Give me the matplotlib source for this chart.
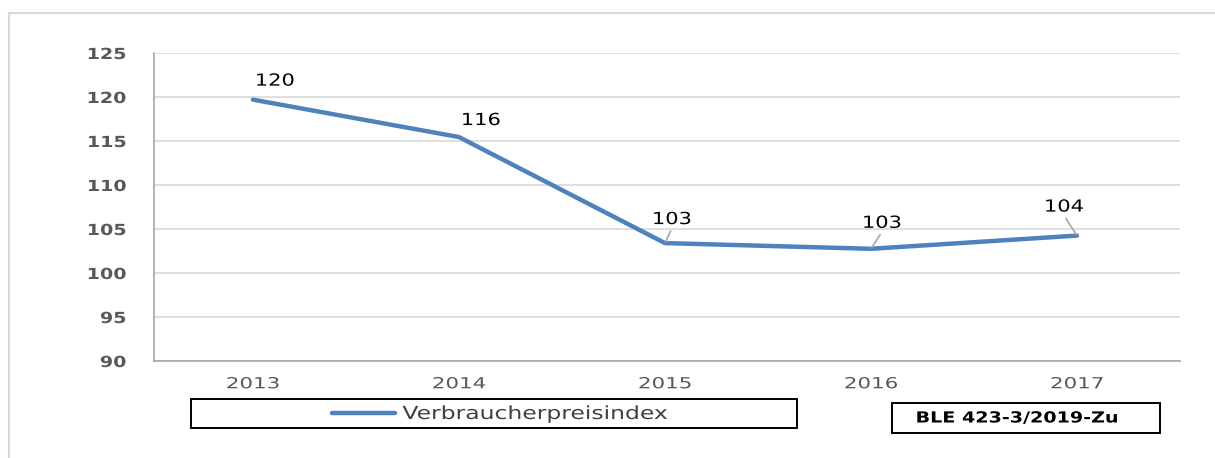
import matplotlib
matplotlib.use("Agg")
import matplotlib.pyplot as plt
from matplotlib.patches import Rectangle
from matplotlib.lines import Line2D
from matplotlib.patheffects import AbstractPathEffect
from matplotlib.transforms import Affine2D

years = ["2013", "2014", "2015", "2016", "2017"]
values = [119.7, 115.45, 103.4, 102.75, 104.25]
labels = ["120", "116", "103", "103", "104"]
yticks = [90, 95, 100, 105, 110, 115, 120, 125]
series_name = "Verbraucherpreisindex"
source_text = "BLE 423-3/2019-Zu"


class HStretch(AbstractPathEffect):
    """Stretch glyphs horizontally (the reference text is rendered wide)."""

    def __init__(self, sx, anchor="center"):
        super().__init__()
        self.sx = sx
        self.anchor = anchor

    def draw_path(self, renderer, gc, tpath, affine, rgbFace=None):
        ext = tpath.transformed(affine).get_extents()
        if self.anchor == "left":
            x0 = ext.x0
        elif self.anchor == "right":
            x0 = ext.x1
        else:
            x0 = 0.5 * (ext.x0 + ext.x1)
        t = affine + Affine2D().translate(-x0, 0).scale(self.sx, 1).translate(x0, 0)
        renderer.draw_path(gc, tpath, t, rgbFace)


W, H = 1215, 458
plt.rcParams['font.family'] = ['DejaVu Sans']
fig = plt.figure(figsize=(W / 100, H / 100), dpi=100)


def fx(px):
    return px / W


def fy(py):
    return 1 - py / H


# outer chart frame (left and top edges visible)
fig.add_artist(Line2D([fx(9), fx(9)], [fy(13), fy(460)], color="#d9d9d9", lw=1.5, transform=fig.transFigure))
fig.add_artist(Line2D([fx(9), fx(1216)], [fy(13), fy(13)], color="#d9d9d9", lw=1.5, transform=fig.transFigure))

ax = fig.add_axes([fx(154), fy(361), (1180 - 154) / W, (361 - 53) / H])
x = list(range(len(years)))
ax.plot(x, values, color="#4f81bd", lw=3.2, solid_capstyle="round", solid_joinstyle="round", zorder=3)

ax.set_xlim(-0.48, 4.5)
ax.set_ylim(90, 125)
ax.set_yticks(yticks)
ax.set_yticklabels([str(v) for v in yticks], fontsize=11, fontweight="bold", color="#595959")
ax.set_xticks(x)
ax.set_xticklabels(years, fontsize=11, color="#595959")
ax.tick_params(axis="y", length=0, pad=20)
ax.tick_params(axis="x", length=0, pad=11)
for t in ax.get_yticklabels():
    t.set_path_effects([HStretch(1.25, "right")])
for t in ax.get_xticklabels():
    t.set_path_effects([HStretch(1.4, "center")])
ax.grid(axis="y", color="#d9d9d9", lw=1.2)
ax.set_axisbelow(True)
for s in ["top", "right"]:
    ax.spines[s].set_visible(False)
for s in ["left", "bottom"]:
    ax.spines[s].set_color("#a6a6a6")
    ax.spines[s].set_linewidth(1.2)

offsets = [(22, 19), (22, 17), (7, 24), (11, 26), (-13, 29)]
leaders = [False, False, True, True, True]
for xi, v, lab, off, ld in zip(x, values, labels, offsets, leaders):
    kw = {}
    if ld:
        kw["arrowprops"] = dict(arrowstyle="-", color="#a6a6a6", lw=1.2, shrinkA=0, shrinkB=1, relpos=(0.5, 0))
    ann = ax.annotate(lab, xy=(xi, v), xytext=off, textcoords="offset pixels",
                      ha="center", va="center", fontsize=12, color="black", **kw)
    ann.set_path_effects([HStretch(1.26, "center")])

# legend box
fig.add_artist(Rectangle((fx(191), fy(428)), (797 - 191) / W, (428 - 399) / H, transform=fig.transFigure,
                         fill=False, edgecolor="black", lw=1.4))
handle = Line2D([], [], color="#4f81bd", lw=3.2, solid_capstyle="round")
leg = fig.legend([handle], [series_name], loc="center left", bbox_to_anchor=(fx(332), fy(414)),
                 frameon=False, fontsize=13, handlelength=3.5, handletextpad=0.4, borderpad=0,
                 borderaxespad=0, labelcolor="#404040")
for t in leg.get_texts():
    t.set_path_effects([HStretch(1.3, "left")])

# source box
fig.add_artist(Rectangle((fx(892), fy(433)), (1160 - 892) / W, (433 - 403) / H, transform=fig.transFigure,
                         fill=False, edgecolor="black", lw=1.4))
src = fig.text(fx(1017), fy(418), source_text, ha="center", va="center", fontsize=11,
               fontweight="bold", color="black")
src.set_path_effects([HStretch(1.25, "center")])

fig.savefig("out.png", dpi=100)
